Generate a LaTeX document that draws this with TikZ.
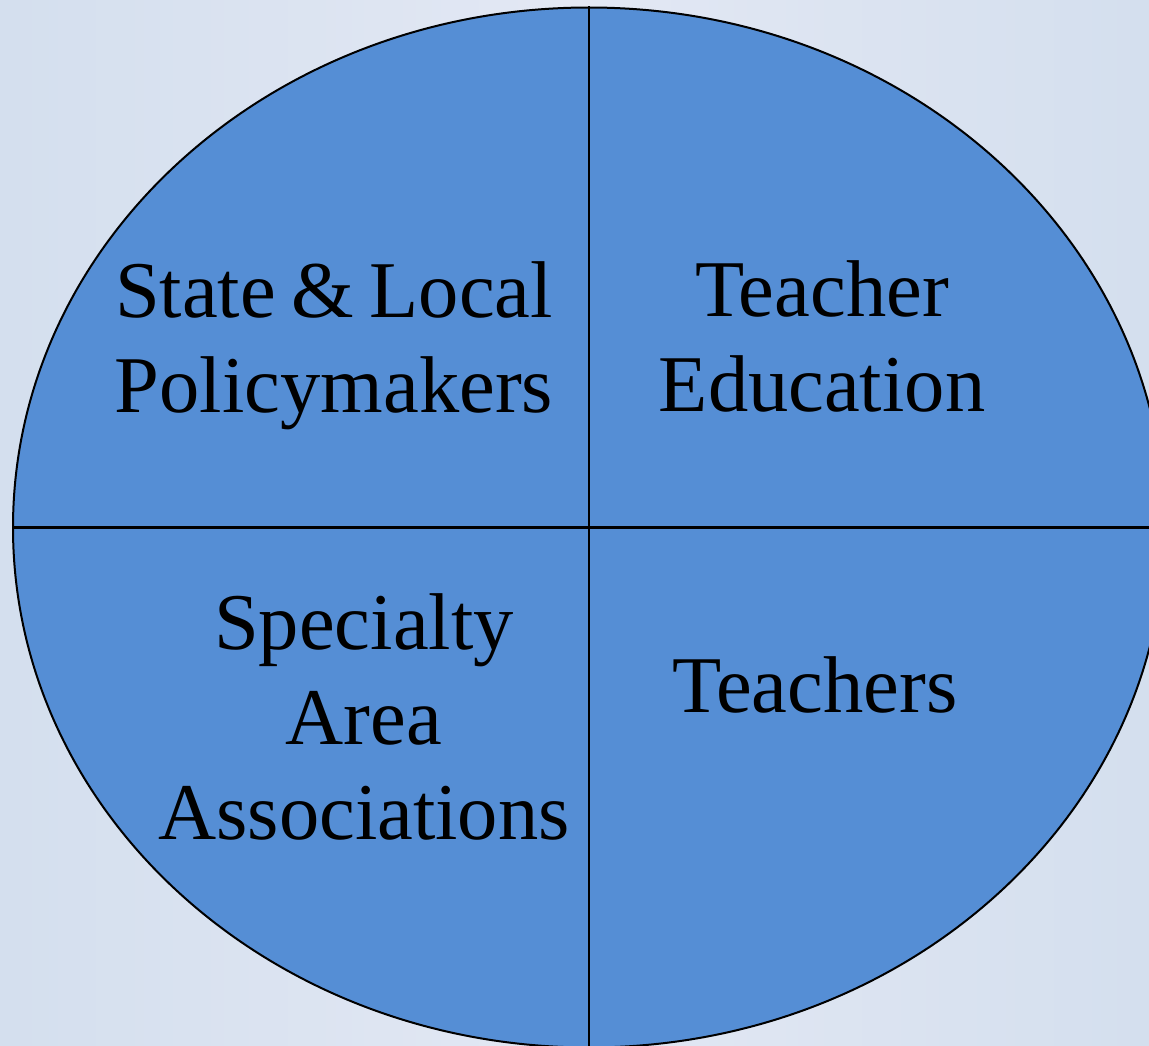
\documentclass[tikz,border=0pt]{standalone}
\usepackage{fontspec}
\setmainfont{Liberation Serif}
\usetikzlibrary{shapes.geometric}
\definecolor{bgedge}{HTML}{D4DFEE}
\definecolor{bgmid}{HTML}{E3E8F4}
\definecolor{discfill}{HTML}{558ED5}
\tikzset{
  disc/.style={ellipse, draw=black, line width=2pt, fill=discfill, inner sep=0pt,
    minimum width=1152pt, minimum height=1040pt},
  divider/.style={draw=black, line width=2.4pt},
  label/.style={text=black, align=center, text width=560pt, inner sep=0pt,
    font=\fontsize{80.5}{95}\selectfont, anchor=base}
}
\begin{document}
\begin{tikzpicture}[x=1pt, y=-1pt]
  \useasboundingbox (0,0) rectangle (1149,1046);
  \shade[left color=bgedge, right color=bgedge, middle color=bgmid] (0,0) rectangle (1149,1046);
  \clip (0,0) rectangle (1149,1046);
  \node[disc] (disc) at (589,527.5) {};
  \draw[divider] (disc.north) -- (disc.south);
  \draw[divider] (disc.west) -- (disc.east);
  \node[label] (policy) at (334,317) {State\hspace{15.5pt}\&\hspace{15.5pt}Local\\Policymakers};
  \node[label] (teached) at (822,316) {Teacher\\Education};
  \node[label] (specialty) at (364,649) {Specialty\\Area\\Associations};
  \node[label] (teachers) at (815,712) {Teachers};
\end{tikzpicture}
\end{document}
